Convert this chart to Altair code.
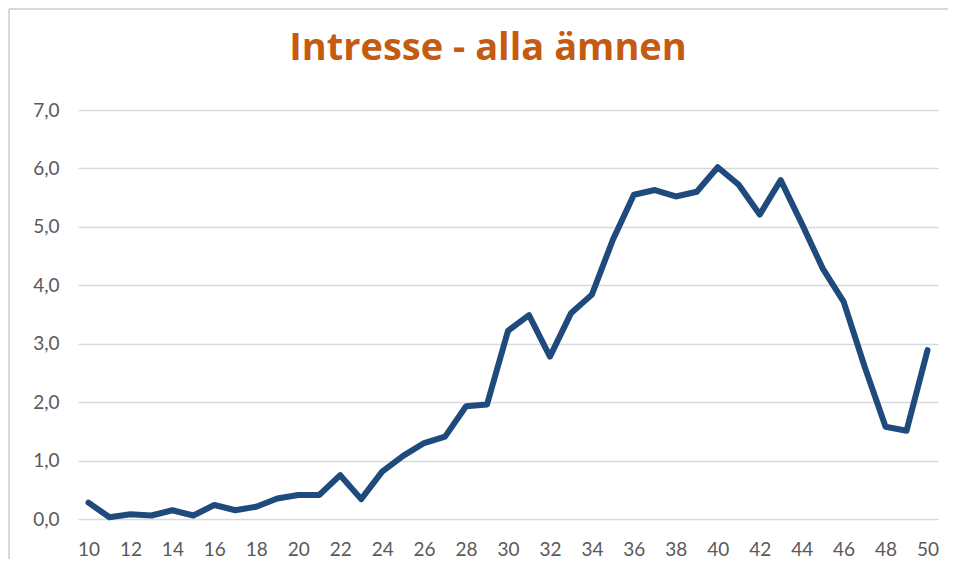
import altair as alt
import pandas as pd

ages = list(range(10, 51))
values = [0.28, 0.03, 0.08, 0.06, 0.15, 0.06, 0.24, 0.15, 0.21, 0.35,
          0.41, 0.41, 0.75, 0.34, 0.81, 1.08, 1.30, 1.41, 1.93, 1.96,
          3.22, 3.49, 2.78, 3.52, 3.84, 4.78, 5.55, 5.63, 5.52, 5.60,
          6.02, 5.72, 5.21, 5.80, 5.06, 4.29, 3.72, 2.61, 1.58, 1.51,
          2.89]
x_ticks = list(range(10, 51, 2))
y_ticks = [0, 1, 2, 3, 4, 5, 6, 7]

df = pd.DataFrame({"age": ages, "value": values})

W, H = 860, 409
PL, PT = 70, 102

line = alt.Chart(df).mark_line(
    color="#1F4A7C", strokeWidth=6, strokeCap="round", strokeJoin="round"
).encode(
    x=alt.X("age:Q",
            scale=alt.Scale(domain=[9.5, 50.5], nice=False, zero=False),
            axis=alt.Axis(values=x_ticks, grid=False, domain=False, ticks=False,
                          labelPadding=21, labelFontSize=19, labelColor="#595959",
                          labelFont="Lato", title=None, labelFlush=False,
                          labelExpr="format(datum.value, 'd')")),
    y=alt.Y("value:Q",
            scale=alt.Scale(domain=[0, 7], nice=False),
            axis=alt.Axis(values=y_ticks, grid=True, gridColor="#d9d9d9",
                          gridWidth=1.4, domain=False, ticks=False,
                          labelPadding=19, labelFontSize=19, labelColor="#595959",
                          labelFont="Lato", title=None,
                          labelExpr="replace(format(datum.value, '.1f'), '.', ',')")),
)

border_left = alt.Chart(df).mark_rule(color="#d9d9d9", strokeWidth=2).encode(
    x=alt.value(-PL + 1), y=alt.value(-PT + 1), y2=alt.value(H + 60)
)
border_top = alt.Chart(df).mark_rule(color="#d9d9d9", strokeWidth=2).encode(
    y=alt.value(-PT + 1), x=alt.value(-PL + 1), x2=alt.value(W + 20)
)

chart = alt.layer(border_left, border_top, line).properties(
    width=W, height=H,
    title=alt.TitleParams("Intresse - alla ämnen", font="Open Sans", fontSize=38,
                          fontWeight="bold", color="#C55A11", anchor="middle",
                          baseline="alphabetic", offset=0, dy=90, dx=-20, frame="group"),
    autosize=alt.AutoSizeParams(type="none"),
    padding={"left": PL, "top": PT, "right": 10, "bottom": 40},
).configure_view(stroke=None)

chart.save("out.html", embed_options={"renderer": "svg", "actions": False})
